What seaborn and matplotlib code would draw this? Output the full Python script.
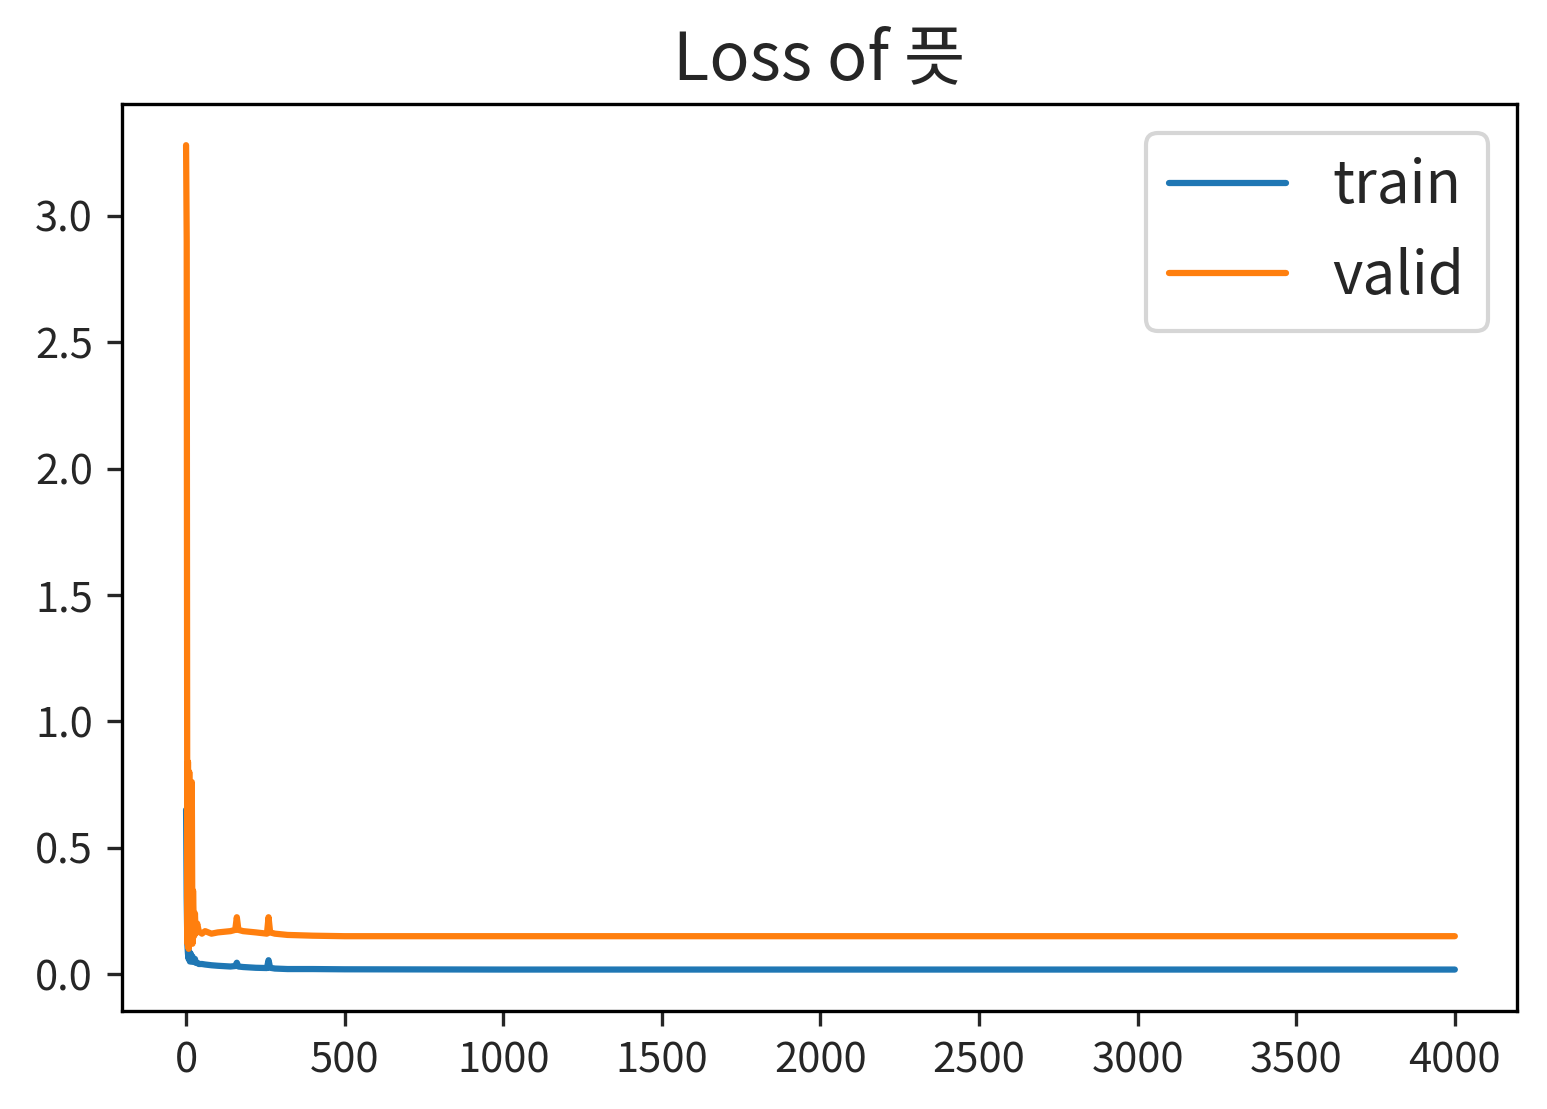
import matplotlib
matplotlib.use("Agg")
import matplotlib.pyplot as plt
import seaborn as sns

# epoch checkpoints
epochs = [0, 2, 4, 6, 8, 10, 12, 15, 18, 20, 22, 25, 28, 30, 35, 40, 50, 60, 80,
          100, 140, 155, 160, 165, 180, 220, 255, 260, 265, 280, 320, 400, 500,
          1000, 2000, 3000, 4000]
train_loss = [0.65, 0.30, 0.12, 0.08, 0.06, 0.09, 0.05, 0.08, 0.05, 0.07, 0.05,
              0.05, 0.06, 0.045, 0.045, 0.04, 0.04, 0.038, 0.035, 0.033, 0.03,
              0.032, 0.045, 0.03, 0.028, 0.025, 0.024, 0.055, 0.025, 0.022, 0.02,
              0.02, 0.019, 0.018, 0.018, 0.018, 0.018]
valid_loss = [3.28, 2.9, 0.12, 0.84, 0.10, 0.80, 0.15, 0.35, 0.76, 0.12, 0.33,
              0.15, 0.24, 0.16, 0.20, 0.17, 0.16, 0.17, 0.16, 0.165, 0.17,
              0.175, 0.225, 0.175, 0.17, 0.165, 0.16, 0.225, 0.165, 0.16, 0.155,
              0.152, 0.15, 0.15, 0.15, 0.15, 0.15]

sns.set_theme(style="ticks")
plt.rcParams['font.family'] = ['Noto Sans CJK KR', 'DejaVu Sans']
plt.rcParams['axes.unicode_minus'] = False

fig = plt.figure(figsize=(1547 / 300, 1109 / 300), dpi=300)
ax = fig.add_axes([122 / 1547, 1 - 1011 / 1109, (1517 - 122) / 1547, (1011 - 104) / 1109])

sns.lineplot(x=epochs, y=train_loss, ax=ax, color="#1f77b4", label="train", linewidth=1.5)
sns.lineplot(x=epochs, y=valid_loss, ax=ax, color="#ff7f0e", label="valid", linewidth=1.5)

ax.set_xlim(-202, 4196)
ax.set_ylim(-0.146, 3.443)
ax.set_xticks(range(0, 4001, 500))
ax.set_yticks([0.0, 0.5, 1.0, 1.5, 2.0, 2.5, 3.0])
ax.tick_params(labelsize=10, length=3.5, width=0.8)
for s in ax.spines.values():
    s.set_linewidth(0.8)
    s.set_color("black")
ax.set_title("Loss of 픗", fontsize=16)
ax.legend(fontsize=14, loc="upper right")

fig.savefig("out.png", dpi=300)
